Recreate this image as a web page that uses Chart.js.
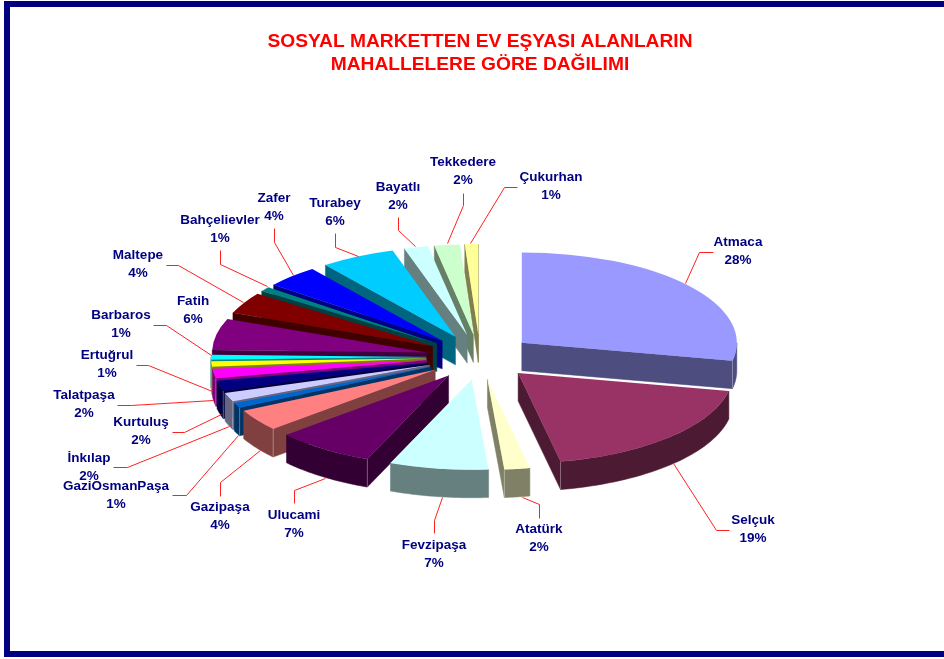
<!DOCTYPE html>
<html><head><meta charset="utf-8">
<style>html,body{margin:0;padding:0;background:#fff;width:944px;height:659px;overflow:hidden}
#wrap{position:absolute;left:0;top:0;width:944px;height:659px}</style>
<script src="https://cdn.jsdelivr.net/npm/chart.js@4"></script></head>
<body><div id="wrap"><canvas id="c" width="944" height="659"></canvas></div>
<script>
const titleLines = ['SOSYAL MARKETTEN EV EŞYASI ALANLARIN', 'MAHALLELERE GÖRE DAĞILIMI'];
const categories = ['Atmaca','Selçuk','Atatürk','Fevzipaşa','Ulucami','Gazipaşa','GaziOsmanPaşa','İnkılap','Kurtuluş','Talatpaşa','Ertuğrul','Barbaros','Fatih','Maltepe','Bahçelievler','Zafer','Turabey','Bayatlı','Tekkedere','Çukurhan'];
const values = [28.1,18.6,1.9,7.4,7.4,3.9,0.9,1.6,1.8,1.7,1.0,0.9,5.6,3.8,0.8,4.0,5.6,1.8,1.9,1.0];
const colors = ['#9999FF','#993366','#FFFFCC','#CCFFFF','#660066','#FF8080','#0066CC','#CCCCFF','#000080','#FF00FF','#FFFF00','#00FFFF','#800080','#800000','#008080','#0000FF','#00CCFF','#CCFFFF','#CCFFCC','#FFFF99'];

// annotation layout: label centre (first line) and leader polyline, independent of the data
const labelAt = [[738,242.5],[753,520.5],[539,529.5],[434,545.5],[294,515.5],[220,507.5],[116,486.5],[89,458.5],[141,422.5],[84,395.5],[107,355.5],[121,315.5],[193,301.5],[138,255.5],[220,220.5],[274,198.5],[335,203.5],[398,187.5],[463,162.5],[551,177.5]];
const leaders = [
 [[713,252],[699,252],[685,283]],[[729,530],[716,530],[673,463]],[[539,518],[539,504],[522,497]],
 [[434,533],[434,520],[442,497]],[[294,503],[294,490],[325,478]],[[220,496],[220,482],[260,450]],
 [[172,495],[186,495],[238,435]],[[113,467],[127,467],[229,426]],[[172,432],[184,432],[221,414]],
 [[117,405],[131,405],[213,400]],[[136,365],[148,365],[212,391]],[[153,325],[166,325],[211,355]],
 null,[[166,265],[178,265],[243,302]],[[220,250],[220,264],[267,286]],[[274,228],[274,242],[293,275]],
 [[335,233],[335,247],[358,256]],[[398,217],[398,230],[415,246]],[[463,193],[463,205],[447,243]],[[517,187],[504,187],[470,243]]
];
const TILT = 0.42, DEPTH = 28, EXPLODE = 54, RADIUS = 215;
const FONT = 'bold 13.5px "Liberation Sans", Arial, sans-serif';

function shade(hex){
  const n = parseInt(hex.slice(1),16);
  return 'rgb('+[(n>>16)&255,(n>>8)&255,n&255].map(v=>Math.round(v*0.5)).join(',')+')';
}
const pie3d = {
  id:'pie3d',
  beforeDatasetDraw(chart,args){
    const ctx = chart.ctx, arcs = chart.getDatasetMeta(args.index).data.slice();
    const mid = a => (a.startAngle+a.endAngle)/2;
    arcs.sort((p,q)=>Math.sin(mid(p))-Math.sin(mid(q)));
    arcs.forEach(arc=>{
      const h = mid(arc), cy = arc.y, R = arc.outerRadius;
      const dx = Math.cos(h)*EXPLODE, dy = Math.sin(h)*EXPLODE;
      const ax = arc.x+dx, ay = arc.y+dy;
      const M = (x,y)=>[x, cy+(y-cy)*TILT];
      const rim = t=>M(ax+Math.cos(t)*R, ay+Math.sin(t)*R);
      const apex = M(ax,ay), wall = shade(arc.options.backgroundColor);
      const poly = pts=>{ctx.beginPath();pts.forEach((p,i)=>i?ctx.lineTo(p[0],p[1]):ctx.moveTo(p[0],p[1]));ctx.closePath();ctx.fillStyle=wall;ctx.fill();ctx.strokeStyle=wall;ctx.lineWidth=0.5;ctx.stroke();};
      const down = p=>[p[0],p[1]+DEPTH];
      const edge = (t)=>{const r=rim(t);poly([apex,r,down(r),down(apex)]);};
      const showA = -Math.cos(arc.startAngle)>0, showB = Math.cos(arc.endAngle)>0;
      if(showA) edge(arc.startAngle);
      if(showB) edge(arc.endAngle);
      const t0 = Math.max(arc.startAngle,0), t1 = Math.min(arc.endAngle,Math.PI);
      if(t1>t0){
        const top=[],bot=[];
        for(let i=0;i<=40;i++){const p=rim(t0+(t1-t0)*i/40);top.push(p);bot.unshift(down(p));}
        poly(top.concat(bot));
      }
      // light seam where rim wall meets a cut face
      ctx.strokeStyle='rgba(255,255,255,0.45)';ctx.lineWidth=0.7;
      [[showA,arc.startAngle],[showB,arc.endAngle]].forEach(([s,t])=>{
        if(s && Math.sin(t)>0){const r=rim(t);ctx.beginPath();ctx.moveTo(r[0],r[1]);ctx.lineTo(r[0],r[1]+DEPTH);ctx.stroke();}
      });
      ctx.save();
      ctx.translate(0,cy);ctx.scale(1,TILT);ctx.translate(0,-cy);
      ctx.translate(dx,dy);
      arc.draw(ctx);
      ctx.restore();
    });
    return false;
  },
  afterDraw(chart){
    const ctx = chart.ctx;
    ctx.save();
    ctx.strokeStyle='#ff2020';ctx.lineWidth=1;
    leaders.forEach(l=>{ if(!l) return;
      ctx.beginPath();l.forEach((p,i)=>i?ctx.lineTo(p[0]+.5,p[1]+.5):ctx.moveTo(p[0]+.5,p[1]+.5));ctx.stroke();});
    ctx.font=FONT;ctx.fillStyle='#000080';ctx.textAlign='center';ctx.textBaseline='middle';
    categories.forEach((c,i)=>{
      ctx.fillText(c,labelAt[i][0],labelAt[i][1]);
      ctx.fillText(Math.round(values[i])+'%',labelAt[i][0],labelAt[i][1]+18);
    });
    ctx.restore();
  }
};
const frame = {id:'frame',beforeDraw(chart){const c=chart.ctx;c.save();c.fillStyle='#000080';c.fillRect(4,1,940,6);c.fillRect(4,651,940,6);c.fillRect(4,1,6,656);c.restore();}};
new Chart(document.getElementById('c'),{
  type:'pie',
  data:{labels:categories,datasets:[{data:values,backgroundColor:colors,borderWidth:0}]},
  options:{
    responsive:false,animation:false,radius:RADIUS,
    layout:{padding:{left:110,right:94,top:30,bottom:32}},
    plugins:{
      legend:{display:false},tooltip:{enabled:false},
      title:{display:true,text:titleLines,color:'#ff0000',font:{family:'"Liberation Sans", Arial, sans-serif',size:19.2,weight:'bold',lineHeight:1.2},padding:{top:0,bottom:11}}
    }
  },
  plugins:[frame,pie3d]
});
</script></body></html>
